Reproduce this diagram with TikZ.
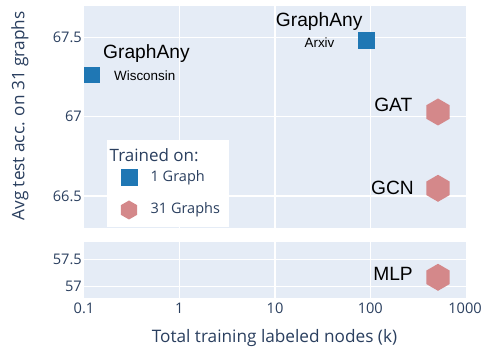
\documentclass[tikz,border=0pt]{standalone}
\usepackage{fontspec}
\setmainfont{Open Sans}
\newfontfamily\annfont{Liberation Sans}
\usetikzlibrary{shapes.geometric}
\definecolor{plotbg}{HTML}{E5ECF6}
\definecolor{tickcol}{HTML}{2A3F5F}
\definecolor{bluemark}{HTML}{1F77B4}
\definecolor{hexcol}{HTML}{D4888A}
\tikzset{
  panel/.style={fill=plotbg, draw=none},
  gridline/.style={draw=white, line width=1.2pt},
  sqmark/.style={rectangle, fill=bluemark, minimum size=16.5pt, inner sep=0pt},
  hexmark/.style={regular polygon, regular polygon sides=6, shape border rotate=30, fill=hexcol, minimum size=27pt, inner sep=0pt},
  ticklab/.style={text=tickcol, font=\fontsize{14.6}{17}\selectfont, inner sep=0pt},
  axtitle/.style={text=tickcol, font=\fontsize{17.2}{20}\selectfont, inner sep=0pt},
  bigann/.style={text=black, font=\annfont\fontsize{19.2}{22}\selectfont, inner sep=0pt},
  smallann/.style={text=black, font=\annfont\fontsize{13.4}{16}\selectfont, inner sep=0pt},
  legtext/.style={text=tickcol, font=\fontsize{14.5}{17}\selectfont, inner sep=0pt, anchor=west},
}
\begin{document}
\begin{tikzpicture}[x=1pt, y=-1pt]
\useasboundingbox[fill=white] (0,0) rectangle (483,347);
% panels
\fill[panel] (84,6) rectangle (466,227.7);
\fill[panel] (84,241.7) rectangle (466,297.7);
% vertical grid
\foreach \gx in {179.3,275,370.3}{
  \draw[gridline] (\gx,6) -- (\gx,227.7);
  \draw[gridline] (\gx,241.7) -- (\gx,297.7);
}
% horizontal grid
\foreach \gy in {37.3,116.7,196}{\draw[gridline] (84,\gy) -- (466,\gy);}
\foreach \gy in {259.3,286.7}{\draw[gridline] (84,\gy) -- (466,\gy);}
% y tick labels
\node[ticklab, anchor=east] (y675) at (82,37.3) {67.5};
\node[ticklab, anchor=east] (y67) at (82,116.7) {67};
\node[ticklab, anchor=east] (y665) at (82,196) {66.5};
\node[ticklab, anchor=east] (y575) at (82,259.3) {57.5};
\node[ticklab, anchor=east] (y57) at (82,286.7) {57};
% x tick labels
\node[ticklab] (x01) at (84,308.5) {0.1};
\node[ticklab] (x1) at (179.3,308.5) {1};
\node[ticklab] (x10) at (275,308.5) {10};
\node[ticklab] (x100) at (370.3,308.5) {100};
\node[ticklab] (x1000) at (465,308.5) {1000};
% axis titles
\node[axtitle] (xtitle) at (274.5,338) {Total training labeled nodes (k)};
\node[axtitle, rotate=90] (ytitle) at (20,116) {Avg test acc. on 31 graphs};
% markers
\node[sqmark] (wis) at (92,75) {};
\node[sqmark] (arx) at (366.5,40.3) {};
\node[hexmark] (gat) at (438,112) {};
\node[hexmark] (gcn) at (438,188.3) {};
\node[hexmark] (mlp) at (438,277.3) {};
% annotations
\node[bigann, anchor=west] (gaw) at (103,54) {GraphAny};
\node[smallann, anchor=west] (wisl) at (114,75.7) {Wisconsin};
\node[bigann] (gaa) at (319.2,21.7) {GraphAny};
\node[smallann] (arxl) at (319.5,42.7) {Arxiv};
\node[bigann, anchor=east] (gatl) at (412.5,105) {GAT};
\node[bigann, anchor=east] (gcnl) at (414,188.3) {GCN};
\node[bigann, anchor=east] (mlpl) at (413,274) {MLP};
% legend
\fill[white] (106.7,140) rectangle (228.7,226.7);
\node[text=tickcol, font=\fontsize{17}{20}\selectfont, inner sep=0pt, anchor=west] (legtitle) at (109.5,155) {Trained on:};
\node[sqmark] (legsq) at (129.5,177.5) {};
\node[hexmark, minimum size=19pt] (leghex) at (129,210) {};
\node[legtext] (leg1) at (150.5,177.5) {1 Graph};
\node[legtext] (leg2) at (150.5,210) {31 Graphs};
\end{tikzpicture}
\end{document}
